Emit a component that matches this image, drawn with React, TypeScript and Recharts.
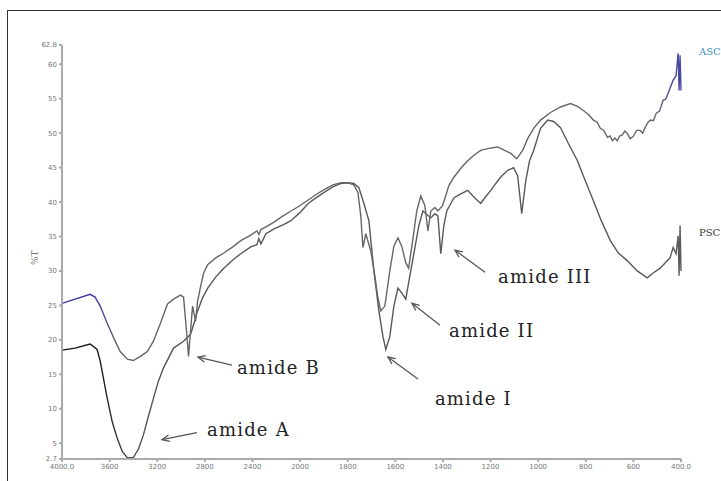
import React from 'react';
import { LineChart, Line, XAxis, YAxis, ReferenceDot } from 'recharts';

// FTIR spectra of ASC / PSC collagen, %T vs wavenumber (cm-1)
const ascWavenumber = [
  4000, 3890, 3764, 3722, 3679, 3620, 3561, 3511, 3451, 3401, 3342, 3283, 3232, 3173, 3114, 3063,
  3004, 2979, 2954, 2937, 2920, 2903, 2878, 2861, 2835, 2810, 2776, 2709, 2641, 2565, 2498, 2414,
  2363, 2346, 2329, 2287, 2219, 2143, 2076, 2000, 1966, 1933, 1899, 1862, 1828, 1799, 1774, 1757,
  1745, 1736, 1724, 1703, 1686, 1673, 1661, 1644, 1623, 1606, 1589, 1573, 1556, 1544, 1527, 1510,
  1493, 1476, 1463, 1451, 1434, 1421, 1401, 1375, 1354, 1325, 1296, 1266, 1241, 1208, 1170, 1141,
  1116, 1090, 1065, 1044, 1019, 990, 948, 906, 864, 835, 810, 789, 768, 752, 739, 724, 709, 698,
  688, 678, 668, 657, 647, 636, 626, 614, 601, 586, 572, 561, 551, 540, 529, 516, 504, 490, 475,
  465, 454, 443, 433, 421, 412, 408, 404, 400,
];
const ascT = [
  25.3, 25.9, 26.6, 26.2, 24.9, 22.4, 20.1, 18.3, 17.2, 17.0, 17.6, 18.3, 19.8, 22.4, 25.2, 25.9,
  26.5, 26.2, 21.3, 17.6, 21.3, 24.9, 22.7, 25.6, 27.8, 29.7, 30.9, 31.9, 32.6, 33.5, 34.4, 35.2,
  35.8, 35.3, 36.0, 36.4, 37.1, 38.0, 38.7, 39.5, 40.3, 41.1, 41.8, 42.5, 42.8, 42.8, 42.5, 41.4,
  38.0, 33.4, 35.4, 32.9, 29.3, 26.1, 24.2, 24.9, 30.0, 33.6, 34.8, 33.6, 31.2, 30.4, 34.4, 38.7,
  40.9, 39.5, 35.8, 38.7, 39.2, 38.7, 39.5, 42.4, 43.6, 44.9, 46.0, 46.9, 47.5, 47.8, 48.0, 47.5,
  47.1, 46.3, 47.5, 49.2, 50.7, 51.9, 53.0, 53.8, 54.3, 53.9, 53.3, 52.7, 51.9, 51.6, 50.7, 50.4,
  49.4, 49.6, 48.9, 49.3, 48.9, 49.6, 49.7, 50.3, 50.0, 49.2, 49.5, 50.4, 50.4, 50.0, 50.8, 51.5,
  51.9, 51.8, 52.9, 53.2, 54.8, 54.9, 55.8, 56.8, 57.7, 58.3, 61.6, 56.2, 61.3, 56.2,
];

const pscWavenumber = [
  4000, 3890, 3764, 3705, 3679, 3620, 3578, 3536, 3494, 3451, 3401, 3359, 3316, 3274, 3232, 3190,
  3148, 3063, 2979, 2920, 2886, 2861, 2819, 2776, 2709, 2641, 2565, 2498, 2414, 2363, 2346, 2329,
  2287, 2219, 2143, 2076, 2000, 1966, 1933, 1899, 1862, 1828, 1799, 1774, 1753, 1732, 1711, 1690,
  1669, 1652, 1640, 1623, 1606, 1589, 1573, 1556, 1539, 1522, 1501, 1484, 1468, 1451, 1434, 1421,
  1409, 1396, 1384, 1354, 1325, 1296, 1266, 1241, 1220, 1199, 1178, 1158, 1128, 1103, 1086, 1069,
  1052, 1036, 1019, 990, 960, 935, 906, 873, 835, 802, 768, 735, 697, 663, 626, 584, 542, 517, 487,
  466, 446, 433, 421, 412, 408, 404, 400,
];
const pscT = [
  18.5, 18.8, 19.4, 18.6, 16.9, 11.5, 8.1, 5.7, 3.8, 2.9, 2.9, 4.1, 6.2, 8.9, 11.5, 14.0,
  15.9, 18.8, 19.8, 20.8, 22.7, 24.2, 26.1, 27.5, 29.1, 30.4, 31.6, 32.5, 33.5, 33.8, 34.7, 33.9,
  35.4, 36.1, 36.7, 37.3, 38.5, 39.8, 40.6, 41.4, 42.2, 42.7, 42.8, 42.7, 42.1, 39.8, 37.3, 30.0,
  24.2, 20.5, 18.6, 20.5, 24.9, 27.5, 26.8, 25.9, 29.3, 32.5, 36.6, 38.7, 38.2, 37.7, 38.3, 38.0,
  32.5, 36.6, 38.7, 40.6, 41.2, 41.7, 40.6, 39.8, 40.8, 41.7, 42.7, 43.6, 44.6, 45.0, 43.8, 38.3,
  43.1, 46.0, 47.5, 50.7, 51.9, 51.7, 50.8, 48.5, 46.0, 43.1, 40.2, 37.3, 34.4, 32.6, 31.5, 30.0, 29.0, 29.7, 30.4,
  31.2, 31.9, 33.4, 32.5, 35.1, 29.3, 36.6, 30.0,
];

const xTicks = [4000, 3600, 3200, 2800, 2400, 2000, 1800, 1600, 1400, 1200, 1000, 800, 600, 400];
const yTicks = [2.7, 5, 10, 15, 20, 25, 30, 35, 40, 45, 50, 55, 60, 62.8];

const bandLabels = ['amide A', 'amide B', 'amide I', 'amide II', 'amide III'];
const bandWavenumber = [3160, 2858, 1631, 1530, 1349];
const bandT = [5.5, 17.5, 17.5, 25.3, 33.0];

const seriesNames = ['ASC', 'PSC'];
const seriesLabelT = [62.0, 35.7];

// pixel offsets for arrow tail and text, relative to arrow head
const bandLayout = [
  { tail: [35, -7], text: [45, -4] },
  { tail: [34, 8], text: [39, 17] },
  { tail: [30, 22], text: [47, 48] },
  { tail: [28, 22], text: [37, 34] },
  { tail: [30, 22], text: [43, 33] },
];

// instrument abscissa: scale doubles below 2000 cm-1
const toPos = (wn: number) => (wn >= 2000 ? (4000 - wn) / 2 : 1000 + (2000 - wn));
const fromPos = (p: number) => Math.round(p <= 1000 ? 4000 - 2 * p : 2000 - (p - 1000));

const ascData = ascWavenumber.map((wn, i) => ({ pos: toPos(wn), t: ascT[i] }));
const pscData = pscWavenumber.map((wn, i) => ({ pos: toPos(wn), t: pscT[i] }));

const ink = '#222';
const serif = '"DejaVu Serif", serif';

const BandArrow = (props: any) => {
  const { cx, cy, idx } = props;
  if (cx == null || cy == null) return null;
  const { tail, text } = bandLayout[idx];
  const tx = cx + tail[0];
  const ty = cy + tail[1];
  const ang = Math.atan2(ty - cy, tx - cx);
  const len = 8;
  const spread = 0.42;
  const h1x = cx + len * Math.cos(ang - spread);
  const h1y = cy + len * Math.sin(ang - spread);
  const h2x = cx + len * Math.cos(ang + spread);
  const h2y = cy + len * Math.sin(ang + spread);
  return (
    <g>
      <line x1={tx} y1={ty} x2={cx} y2={cy} stroke="#555" strokeWidth={1.3} />
      <polyline points={`${h1x},${h1y} ${cx},${cy} ${h2x},${h2y}`} fill="none" stroke="#555" strokeWidth={1.3} />
      <text x={cx + text[0]} y={cy + text[1]} fontFamily={serif} fontSize={18} letterSpacing={1.2} fill={ink}>
        {bandLabels[idx]}
      </text>
    </g>
  );
};

const SeriesTag = (props: any) => {
  const { cx, cy, idx } = props;
  if (cx == null || cy == null) return null;
  return (
    <text x={cx + 18} y={cy + 4} fontFamily={serif} fontSize={10} fill={idx === 0 ? '#3f8fbf' : '#333'}>
      {seriesNames[idx]}
    </text>
  );
};

const fmtX = (v: number) => {
  const wn = fromPos(v);
  return wn === 4000 || wn === 400 ? wn.toFixed(1) : String(wn);
};

export default function App() {
  return (
    <div style={{ position: 'absolute', left: 0, top: 0, width: 721, height: 481, background: '#fff', overflow: 'hidden' }}>
      <style>{'body{margin:0}'}</style>
      <div
        style={{
          position: 'absolute', left: 7, top: 10, width: 730, height: 490,
          borderTop: '1px solid #333', borderLeft: '1px solid #333',
        }}
      />
      <div style={{ position: 'absolute', left: 0, top: 0 }}>
        <LineChart width={721} height={481} margin={{ top: 45, right: 40, bottom: 2, left: 32 }}>
          <defs>
            <linearGradient id="ascStroke" x1="0" y1="0" x2="1" y2="0">
              <stop offset="0%" stopColor="#3535a8" />
              <stop offset="5%" stopColor="#3535a8" />
              <stop offset="9%" stopColor="#666" />
              <stop offset="96%" stopColor="#666" />
              <stop offset="98.5%" stopColor="#4848a0" />
              <stop offset="100%" stopColor="#4848a0" />
            </linearGradient>
            <linearGradient id="pscStroke" x1="0" y1="0" x2="1" y2="0">
              <stop offset="0%" stopColor="#111" />
              <stop offset="6%" stopColor="#1a1a1a" />
              <stop offset="12%" stopColor="#555" />
              <stop offset="100%" stopColor="#5a5a5a" />
            </linearGradient>
          </defs>
          <XAxis
            type="number"
            dataKey="pos"
            domain={[0, 2600]}
            ticks={xTicks.map(toPos)}
            tickFormatter={fmtX}
            interval={0}
            height={20}
            stroke="#aaa"
            strokeWidth={2}
            tickSize={3}
            tick={{ fill: '#777', fontSize: 7, fontFamily: 'DejaVu Sans' }}
          />
          <YAxis
            type="number"
            domain={[2.7, 62.8]}
            ticks={yTicks}
            interval={0}
            width={30}
            stroke="#aaa"
            strokeWidth={2}
            tickSize={3}
            tick={{ fill: '#777', fontSize: 7, fontFamily: 'DejaVu Sans' }}
            label={{ value: '%T', angle: -90, position: 'insideLeft', offset: 3, dy: 13, fontSize: 9, fill: '#777', fontFamily: serif }}
          />
          <Line data={pscData} dataKey="t" type="linear" dot={false} stroke="url(#pscStroke)" strokeWidth={1.4} isAnimationActive={false} />
          <Line data={ascData} dataKey="t" type="linear" dot={false} stroke="url(#ascStroke)" strokeWidth={1.4} isAnimationActive={false} />
          {bandLabels.map((lab, i) => (
            <ReferenceDot
              key={lab}
              x={toPos(bandWavenumber[i])}
              y={bandT[i]}
              ifOverflow="visible"
              shape={(p: any) => <BandArrow {...p} idx={i} />}
            />
          ))}
          {seriesNames.map((name, i) => (
            <ReferenceDot
              key={name}
              x={toPos(400)}
              y={seriesLabelT[i]}
              ifOverflow="visible"
              shape={(p: any) => <SeriesTag {...p} idx={i} />}
            />
          ))}
        </LineChart>
      </div>
    </div>
  );
}
